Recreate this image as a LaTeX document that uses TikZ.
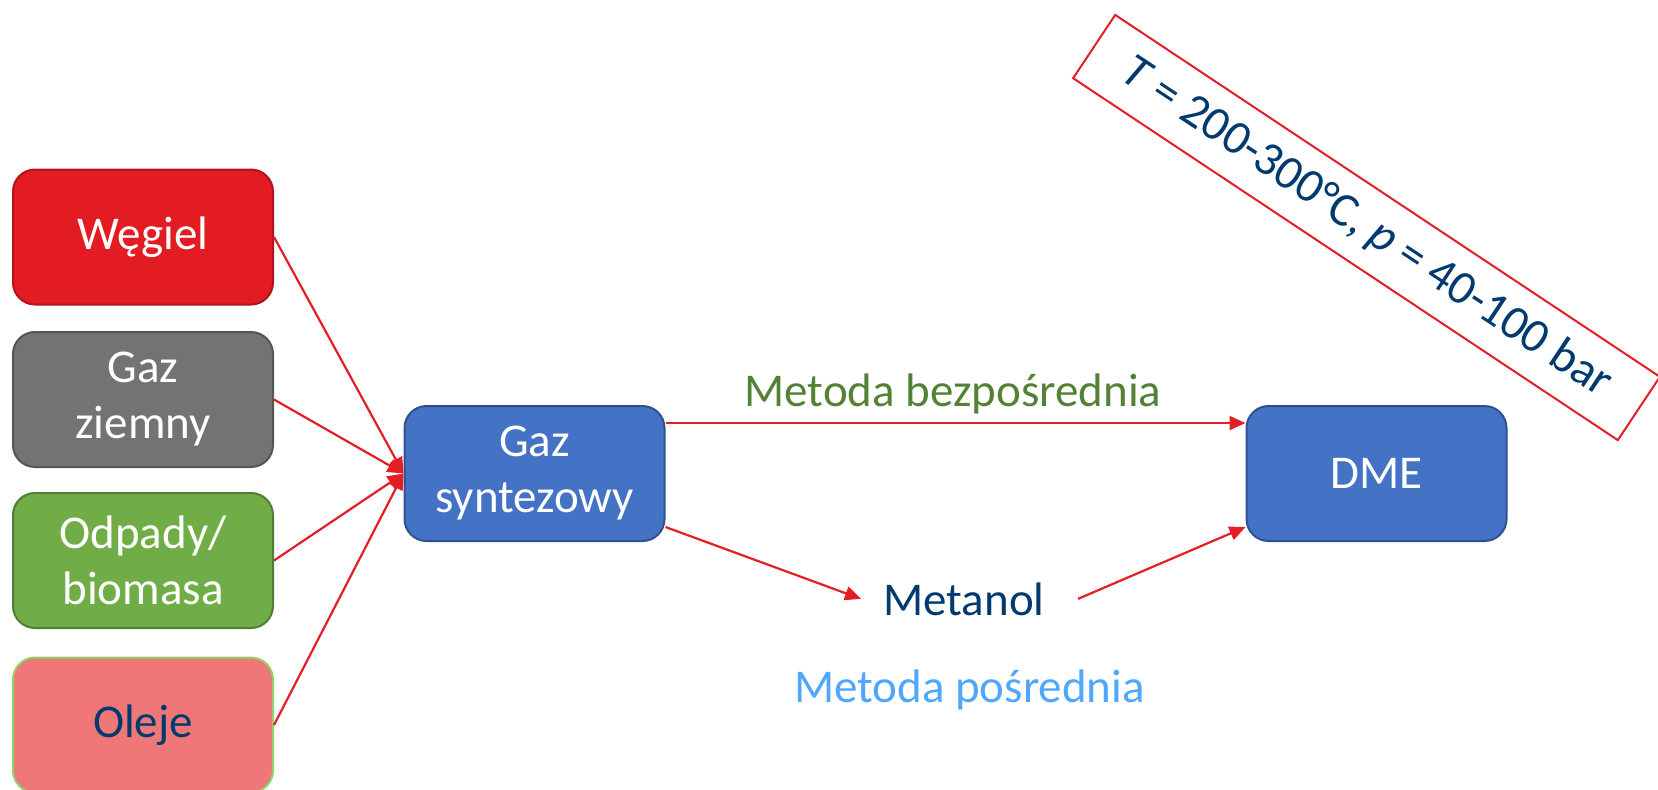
\documentclass[tikz,border=0pt]{standalone}
\usepackage{fontspec}
\setmainfont{Carlito}
\usetikzlibrary{arrows.meta}
\definecolor{cred}{HTML}{E31B23}
\definecolor{credb}{HTML}{B0141A}
\definecolor{cgray}{HTML}{737375}
\definecolor{cgrayb}{HTML}{555555}
\definecolor{cgreen}{HTML}{70AD47}
\definecolor{cgreenb}{HTML}{507E32}
\definecolor{cpink}{HTML}{EF7777}
\definecolor{cpinkb}{HTML}{8FD16B}
\definecolor{cblue}{HTML}{4472C4}
\definecolor{cblueb}{HTML}{2F528F}
\definecolor{carrow}{HTML}{E31E24}
\definecolor{cnavy}{HTML}{003A6F}
\definecolor{cdgreen}{HTML}{548235}
\definecolor{clblue}{HTML}{4FA7FF}
\tikzset{
  srcbox/.style={rectangle, rounded corners=11pt, line width=1pt, minimum width=130pt, minimum height=67.5pt, align=center, text=white, font=\fontsize{23.5}{28}\selectfont, inner sep=0pt},
  bluebox/.style={srcbox, fill=cblue, draw=cblueb},
  conn/.style={draw=carrow, line width=1.1pt, -{Triangle[length=8pt,width=7pt]}},
  lbl/.style={inner sep=0pt, anchor=base, font=\fontsize{23.5}{28}\selectfont}
}
\begin{document}
\begin{tikzpicture}[x=0.5pt,y=-0.5pt]
\useasboundingbox (0,0) rectangle (1658,789);
% source boxes
\node[srcbox, fill=cred, draw=credb] (weg) at (143,237) {Węgiel};
\node[srcbox, fill=cgray, draw=cgrayb] (gazz) at (143,399.5) {Gaz\\ziemny};
\node[srcbox, fill=cgreen, draw=cgreenb] (odp) at (143,560.5) {Odpady/\\biomasa};
\node[srcbox, fill=cpink, draw=cpinkb, text=cnavy] (ole) at (143,725) {Oleje};
% main boxes
\node[bluebox] (gs) at (534.5,473.5) {Gaz\\syntezowy};
\node[bluebox] (dme) at (1376.5,473.5) {DME};
% texts
\node[lbl, text=cnavy] (met) at (964,615) {Metanol};
\node[lbl, text=cdgreen] (mbez) at (953,406) {Metoda bezpośrednia};
\node[lbl, text=clblue] (mpos) at (969.5,702) {Metoda pośrednia};
% condition box
\node[draw=carrow, line width=1pt, fill=white, rotate=-33.6, minimum width=327pt, minimum height=38pt, inner sep=0pt, text=cnavy, font=\fontsize{24}{28}\selectfont] (cond) at (1366.5,227.5) {\textit{T} = 200-300°C, \textit{p} = 40-100 bar\hspace{12pt}};
% connectors
\draw[conn] (weg.east) -- (gs.west);
\draw[conn] (gazz.east) -- (gs.west);
\draw[conn] (odp.east) -- (gs.west);
\draw[conn] (ole.east) -- (gs.west);
\draw[conn] ([yshift=25.25pt]gs.east) -- ([yshift=25.25pt]dme.west);
\draw[conn] ([yshift=-26.75pt]gs.east) -- ([xshift=-11pt]met.west);
\draw[conn] ([xshift=16.5pt]met.east) -- ([yshift=-26.75pt]dme.west);
\end{tikzpicture}
\end{document}
